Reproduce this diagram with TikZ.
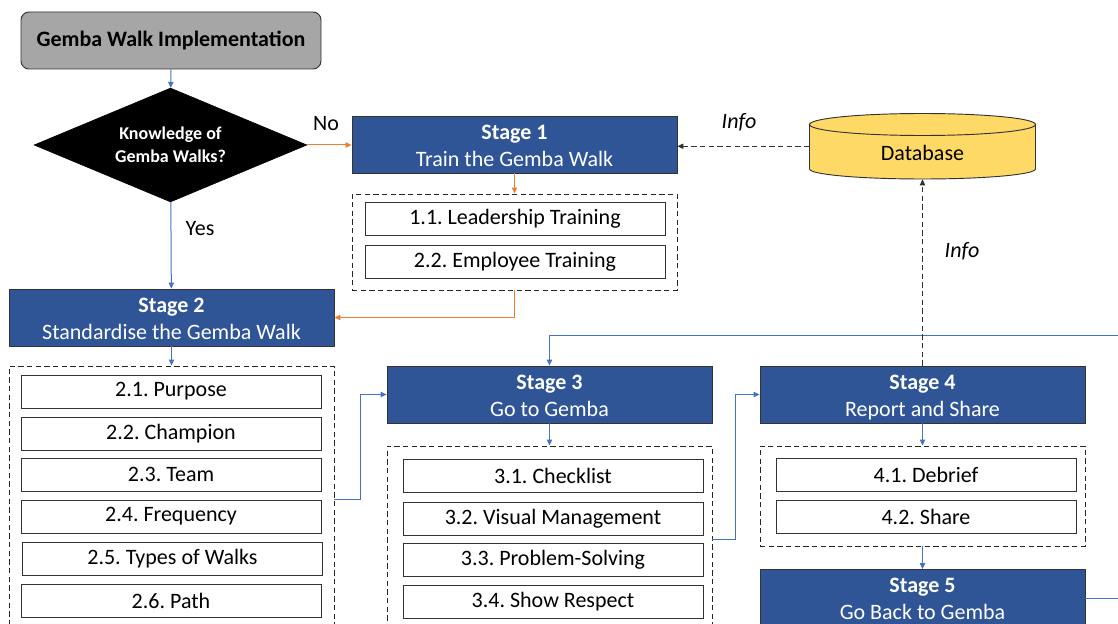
\documentclass[tikz,border=0pt]{standalone}
\usepackage{fontspec}
\setmainfont{Carlito}
\usetikzlibrary{arrows.meta,shapes.geometric}
\definecolor{stageblue}{HTML}{2F5597}
\definecolor{flowblue}{HTML}{4472C4}
\definecolor{floworange}{HTML}{ED7D31}
\definecolor{dbyellow}{HTML}{FFD966}
\definecolor{startgray}{HTML}{A6A6A6}
\frenchspacing
% two-line stage caption; fixed line boxes so every stage sets its text alike
\newcommand{\stagetext}[2]{\textbf{Stage #1}\strut\\\smash{#2}\rule[-1.6pt]{0pt}{0pt}}
\begin{document}
\begin{tikzpicture}[x=0.75pt,y=-0.75pt,
  stagebox/.style={draw=black!80, line width=0.6pt, fill=stageblue, text=white,
    minimum width=325*0.75pt, minimum height=57*0.75pt, inner sep=0pt,
    align=center, font=\fontsize{16.5}{20.3}\selectfont},
  itembox/.style={draw=black!80, line width=0.6pt, fill=white,
    minimum width=300*0.75pt, minimum height=33*0.75pt, inner sep=0pt,
    font=\fontsize{16.5}{19}\selectfont},
  groupbox/.style={draw=black!85, dash pattern=on 4pt off 2.5pt, line width=0.7pt,
    minimum width=325*0.75pt, inner sep=0pt},
  tip/.style={-{Triangle[length=4.5pt,width=4pt]}},
  bluearrow/.style={draw=flowblue, line width=0.75pt, tip},
  orangearrow/.style={draw=floworange, line width=0.75pt, tip},
  infoarrow/.style={draw=black!80, line width=0.7pt, dash pattern=on 4pt off 2.5pt, tip},
  lbl/.style={font=\fontsize{16.5}{19}\selectfont, inner sep=1pt},
  infolbl/.style={font=\fontsize{16.5}{19}\selectfont\itshape, inner sep=1pt}
]
\useasboundingbox (0,0) rectangle (1118,624);
\clip (0,0) rectangle (1118,624);

% start and decision
\node[draw=black!80, line width=0.7pt, fill=startgray, rounded corners=6pt,
  minimum width=300*0.75pt, minimum height=57*0.75pt, inner sep=0pt,
  font=\fontsize{16.5}{19}\selectfont\bfseries] (start) at (171,40.5) {Gemba Walk Implementation};
\node[diamond, fill=black, draw=black, minimum width=273*0.75pt, minimum height=114*0.75pt,
  inner sep=0pt,
  label={[text=white, align=center, font=\fontsize{13.5}{17.5}\selectfont\bfseries]center:Knowledge of\\Gemba Walks?}]
  (kw) at (170.5,145) {};

% stage 1
\node[stagebox] (s1) at (514.5,144.5) {\stagetext{1}{Train the Gemba Walk}};
\node[groupbox, minimum height=96*0.75pt] (g1) at (514.5,242) {};
\node[itembox] (i11) at (515,219) {1.1. Leadership Training};
\node[itembox] (i12) at (515,261.5) {2.2. Employee Training};

% stage 2
\node[stagebox] (s2) at (171.5,317.5) {\stagetext{2}{Standardise the Gemba Walk}};
\node[groupbox, minimum height=266*0.75pt] (g2) at (171.5,499) {};
\node[itembox] (i21) at (171,391.5) {2.1. Purpose};
\node[itembox] (i22) at (171,433.5) {2.2. Champion};
\node[itembox] (i23) at (171,474.5) {2.3. Team};
\node[itembox] (i24) at (171,516.5) {2.4. Frequency};
\node[itembox] (i25) at (172.5,558.5) {2.5. Types of Walks};
\node[itembox] (i26) at (171,600.5) {2.6. Path};

% stage 3
\node[stagebox] (s3) at (549.5,394.5) {\stagetext{3}{Go to Gemba}};
\node[groupbox, minimum height=186*0.75pt] (g3) at (549.5,539) {};
\node[itembox] (i31) at (553,476) {3.1. Checklist};
\node[itembox] (i32) at (553,518.5) {3.2. Visual Management};
\node[itembox] (i33) at (553,559.5) {3.3. Problem-Solving};
\node[itembox] (i34) at (553,601.5) {3.4. Show Respect};

% stage 4
\node[stagebox] (s4) at (922.5,394.5) {\stagetext{4}{Report and Share}};
\node[groupbox, minimum height=100*0.75pt] (g4) at (922.5,496) {};
\node[itembox] (i41) at (926,474.5) {4.1. Debrief};
\node[itembox] (i42) at (926,517) {4.2. Share};

% stage 5
\node[stagebox] (s5) at (922.5,598) {\stagetext{5}{Go Back to Gemba}};

% database cylinder
\path[fill=dbyellow, draw=black!80, line width=0.7pt]
  (809.5,124.5) -- (809.5,169)
  .. controls (809.5,174.5) and (860,179) .. (922.5,179)
  .. controls (985,179) and (1035.5,174.5) .. (1035.5,169)
  -- (1035.5,124.5);
\path[fill=dbyellow, draw=black!80, line width=0.7pt]
  (809.5,124.5)
  .. controls (809.5,118.4) and (860,113.5) .. (922.5,113.5)
  .. controls (985,113.5) and (1035.5,118.4) .. (1035.5,124.5)
  .. controls (1035.5,130.6) and (985,135.5) .. (922.5,135.5)
  .. controls (860,135.5) and (809.5,130.6) .. (809.5,124.5) -- cycle;
\node[minimum width=226*0.75pt, minimum height=65.5*0.75pt, inner sep=0pt] (db) at (922.5,146.25) {};
\node[font=\fontsize{16.5}{19}\selectfont] (dbtext) at (922.5,153) {Database};

% connectors
\draw[bluearrow] (start) -- (kw);
\draw[orangearrow] (kw.east) -- (kw.east -| s1.west);
\node[lbl] (no) at (326,124) {No};
\draw[bluearrow] (kw) -- (s2);
\node[lbl] (yes) at (200,229) {Yes};
\draw[orangearrow] (s1) -- (g1);
\draw[orangearrow] (g1.south) |- (s2.east);
\draw[bluearrow] (s2) -- (g2);
\draw[bluearrow] (g2.east) -- ++(26,0) |- (s3.west);
\draw[bluearrow] (s3) -- (g3);
\draw[bluearrow] (g3.east) -- ++(23,0) |- (s4.west);
\draw[bluearrow] (s4) -- (g4);
\draw[bluearrow] (g4) -- (s5);
\coordinate (loop) at (1150,335);
\draw[bluearrow] (s5.east) -| (loop) -| (s3.north);
\draw[infoarrow] (s4.north) -- (db.south);
\draw[infoarrow] (db.west) -- (db.west -| s1.east);
\node[infolbl] (info1) at (739,122) {Info};
\node[infolbl] (info2) at (962,251) {Info};
\end{tikzpicture}
\end{document}
